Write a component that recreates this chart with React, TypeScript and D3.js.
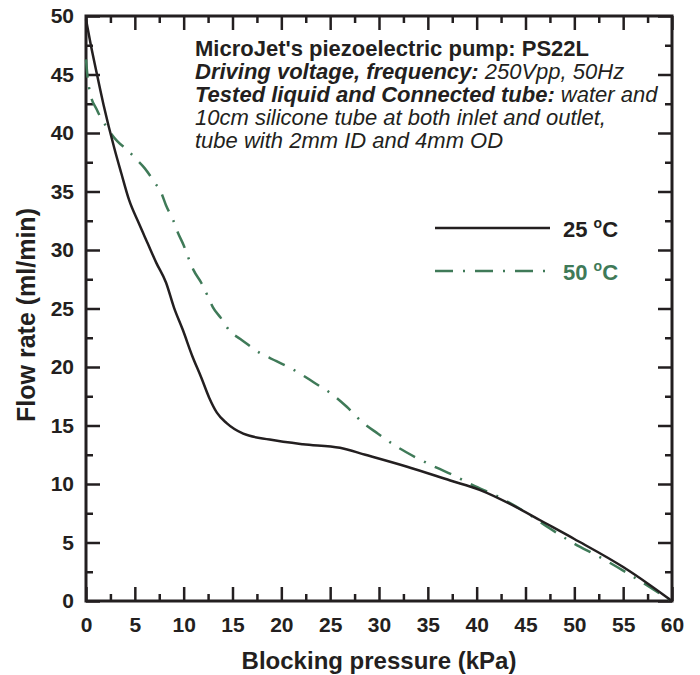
import React, { useEffect, useRef } from 'react';
import * as d3 from 'd3';

// 25 °C curve (blocking pressure kPa, flow ml/min)
const pressure25 = [0, 0.5, 1, 1.8, 2.9, 3.6, 4.4, 5.4, 6.3, 7.2, 8.2, 9.0, 9.9, 10.9, 11.8, 12.6, 13.4, 14.4, 16.1, 18.8, 22.2, 26, 28.6, 32.8, 37.3, 40.3, 44.1, 46.5, 50, 55, 57.5, 60];
const flow25 = [49.7, 47.5, 45.5, 42.4, 38.7, 36.6, 34.3, 32.3, 30.6, 28.9, 27.2, 25.1, 23.2, 20.9, 19.1, 17.4, 16.1, 15.2, 14.3, 13.8, 13.4, 13.1, 12.5, 11.5, 10.3, 9.5, 8.0, 6.9, 5.3, 2.9, 1.5, 0];

// 50 °C curve
const pressure50 = [0, 0.2, 0.4, 1.1, 2.2, 3.2, 4.3, 5.1, 6.0, 7.0, 7.7, 8.2, 8.9, 9.4, 10.0, 10.5, 11.0, 11.8, 12.5, 13.0, 13.8, 14.8, 15.8, 17.8, 19.5, 21.6, 23.3, 25.3, 26.7, 28.4, 29.9, 31.8, 33.7, 35.9, 37.5, 39.6, 42, 45, 47.5, 50, 52.5, 55, 57.5, 60];
const flow50 = [46.3, 44.5, 43.5, 42, 40.4, 39.3, 38.5, 37.8, 37.0, 35.8, 34.9, 33.8, 32.6, 31.5, 30.4, 29.3, 28.3, 27.2, 26.0, 25.1, 24.2, 23.0, 22.4, 21.2, 20.5, 19.6, 18.7, 17.6, 16.6, 15.2, 14.3, 13.2, 12.3, 11.4, 10.8, 9.9, 9.0, 7.6, 6.2, 4.9, 3.8, 2.6, 1.3, 0];

const xMajor = [0, 5, 10, 15, 20, 25, 30, 35, 40, 45, 50, 55, 60];
const xMinor = [2.5, 7.5, 12.5, 17.5, 22.5, 27.5, 32.5, 37.5, 42.5, 47.5, 52.5, 57.5];
const yMajor = [0, 5, 10, 15, 20, 25, 30, 35, 40, 45, 50];
const yMinor = [2.5, 7.5, 12.5, 17.5, 22.5, 27.5, 32.5, 37.5, 42.5, 47.5];

const GREEN = '#3f7a58';
const INK = '#231f20';
const FONT = '"Liberation Sans", Arial, sans-serif';

const App = () => {
  const ref = useRef<SVGSVGElement>(null);

  useEffect(() => {
    const svg = d3.select(ref.current);
    svg.selectAll('*').remove();

    const left = 86, right = 672, top = 16, bottom = 601;
    const x = d3.scaleLinear().domain([0, 60]).range([left, right]);
    const y = d3.scaleLinear().domain([0, 50]).range([bottom, top]);

    const styleAxis = (g) => {
      g.select('.domain').remove();
      g.selectAll('line').attr('stroke', INK).attr('stroke-width', 2.5);
      g.selectAll('text')
        .attr('font-family', FONT)
        .attr('font-weight', 'bold')
        .attr('font-size', 21)
        .attr('fill', INK);
    };

    // bottom axis with labels
    svg.append('g').attr('transform', `translate(0,${bottom})`)
      .call(d3.axisBottom(x).tickValues(xMajor).tickSizeInner(-14).tickSizeOuter(0).tickPadding(16))
      .call(styleAxis);
    svg.append('g').attr('transform', `translate(0,${bottom})`)
      .call(d3.axisBottom(x).tickValues(xMinor).tickSize(-7).tickFormat(() => ''))
      .call(styleAxis);
    // top axis
    svg.append('g').attr('transform', `translate(0,${top})`)
      .call(d3.axisTop(x).tickValues(xMajor).tickSize(-14).tickFormat(() => ''))
      .call(styleAxis);
    svg.append('g').attr('transform', `translate(0,${top})`)
      .call(d3.axisTop(x).tickValues(xMinor).tickSize(-7).tickFormat(() => ''))
      .call(styleAxis);
    // left axis with labels
    svg.append('g').attr('transform', `translate(${left},0)`)
      .call(d3.axisLeft(y).tickValues(yMajor).tickSizeInner(-14).tickSizeOuter(0).tickPadding(12))
      .call(styleAxis);
    svg.append('g').attr('transform', `translate(${left},0)`)
      .call(d3.axisLeft(y).tickValues(yMinor).tickSize(-7).tickFormat(() => ''))
      .call(styleAxis);
    // right axis
    svg.append('g').attr('transform', `translate(${right},0)`)
      .call(d3.axisRight(y).tickValues(yMajor).tickSize(-14).tickFormat(() => ''))
      .call(styleAxis);
    svg.append('g').attr('transform', `translate(${right},0)`)
      .call(d3.axisRight(y).tickValues(yMinor).tickSize(-7).tickFormat(() => ''))
      .call(styleAxis);

    // frame
    svg.append('rect')
      .attr('x', left).attr('y', top)
      .attr('width', right - left).attr('height', bottom - top)
      .attr('fill', 'none').attr('stroke', INK).attr('stroke-width', 3);

    const line = d3.line<[number, number]>()
      .x((d) => x(d[0]))
      .y((d) => y(d[1]))
      .curve(d3.curveMonotoneX);

    const data50 = pressure50.map((p, i) => [p, flow50[i]] as [number, number]);
    const data25 = pressure25.map((p, i) => [p, flow25[i]] as [number, number]);

    svg.append('path')
      .attr('d', line(data50))
      .attr('fill', 'none')
      .attr('stroke', GREEN)
      .attr('stroke-width', 2.5)
      .attr('stroke-dasharray', '18 10 2 10');

    svg.append('path')
      .attr('d', line(data25))
      .attr('fill', 'none')
      .attr('stroke', INK)
      .attr('stroke-width', 2.5);

    // axis titles
    svg.append('text')
      .attr('x', (left + right) / 2).attr('y', 669)
      .attr('text-anchor', 'middle')
      .attr('font-family', FONT).attr('font-weight', 'bold').attr('font-size', 24)
      .attr('fill', INK)
      .text('Blocking pressure (kPa)');
    svg.append('text')
      .attr('transform', `translate(35,315) rotate(-90)`)
      .attr('text-anchor', 'middle')
      .attr('font-family', FONT).attr('font-weight', 'bold').attr('font-size', 25)
      .attr('fill', INK)
      .text('Flow rate (ml/min)');

    // annotation (one text element per line)
    const note = svg.append('g')
      .attr('font-family', FONT).attr('font-size', 22).attr('fill', INK);
    const row = (yy) => note.append('text').attr('x', 195).attr('y', yy);
    row(56).append('tspan').attr('font-weight', 'bold').text("MicroJet's piezoelectric pump: PS22L");
    const r2 = row(79);
    r2.append('tspan').attr('font-weight', 'bold').attr('font-style', 'italic').text('Driving voltage, frequency:');
    r2.append('tspan').attr('font-style', 'italic').text(' 250Vpp, 50Hz');
    const r3 = row(102);
    r3.append('tspan').attr('font-weight', 'bold').attr('font-style', 'italic').text('Tested liquid and Connected tube:');
    r3.append('tspan').attr('font-style', 'italic').text(' water and');
    row(125).attr('font-style', 'italic').text('10cm silicone tube at both inlet and outlet,');
    row(148).attr('font-style', 'italic').text('tube with 2mm ID and 4mm OD');

    // legend
    const legend = [
      { label: '25', color: INK, dash: null, y: 228 },
      { label: '50', color: GREEN, dash: '18 10 2 10', y: 271 },
    ];
    legend.forEach((l) => {
      svg.append('line')
        .attr('x1', 435).attr('x2', 550).attr('y1', l.y).attr('y2', l.y)
        .attr('stroke', l.color).attr('stroke-width', 2.5)
        .attr('stroke-dasharray', l.dash);
      const t = svg.append('text')
        .attr('x', 563).attr('y', l.y + 9)
        .attr('font-family', FONT).attr('font-weight', 'bold').attr('font-size', 22)
        .attr('fill', l.color);
      t.append('tspan').text(l.label + ' ');
      t.append('tspan').attr('font-size', 14).attr('dy', -9).text('o');
      t.append('tspan').attr('dy', 9).text('C');
    });
  }, []);

  return (
    <div className="chart">
      <svg ref={ref} width="700" height="675" style={{ position: 'absolute', left: 0, top: 0, background: '#fff' }}></svg>
    </div>
  );
};

export default App;
